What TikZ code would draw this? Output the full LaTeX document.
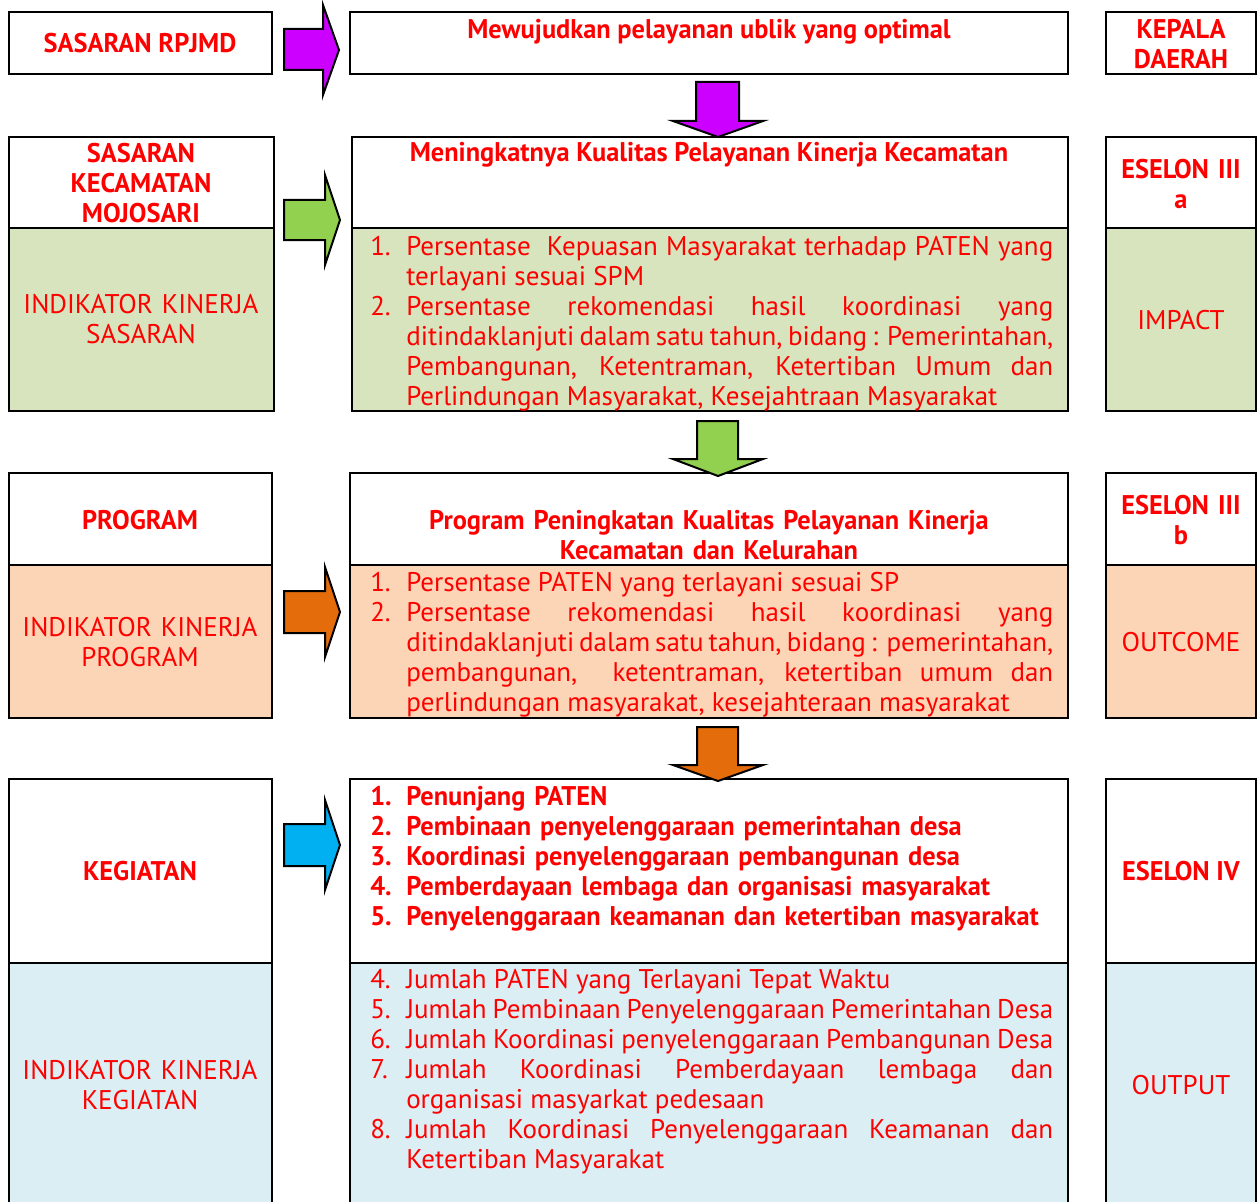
\documentclass[tikz,border=0pt]{standalone}
\usepackage{fontspec}
\setmainfont{PT Sans}[BoldFeatures={FakeStretch=0.977}]
\definecolor{txtred}{HTML}{FF0000}
\definecolor{gfill}{HTML}{D7E4BD}
\definecolor{ofill}{HTML}{FBD5B5}
\definecolor{bfill}{HTML}{DBEEF4}
\definecolor{apurple}{HTML}{CC00FF}
\definecolor{agreen}{HTML}{92D050}
\definecolor{aorange}{HTML}{E46C0A}
\definecolor{ablue}{HTML}{00B0F0}
\newcommand\fsz{\fontsize{20.25pt}{22.5pt}\selectfont}
\newcommand\litem[1]{\par\noindent\hangindent=27pt\hangafter=1\makebox[27pt][l]{\strut#1}\ignorespaces}
\tikzset{
  frame/.style={draw=black, line width=2pt},
  blockarrow/.style={draw=black, line width=1.5pt, line join=miter},
  lbl/.style={inner sep=0pt, text=txtred, font=\fsz, anchor=base},
  mlbl/.style={inner sep=0pt, text=txtred, font=\fsz, anchor=north, align=center},
  lst/.style={inner sep=0pt, text=txtred, font=\fsz, anchor=north west, text width=512.25pt, align=justify},
}
\begin{document}
\begin{tikzpicture}[x=0.75pt,y=-0.75pt]
\useasboundingbox (0,0) rectangle (1260,1202);
\clip (0,0) rectangle (1260,1202);
\fill[white] (0,0) rectangle (1260,1202);

% ---------- row 1
\draw[frame] (9,12) rectangle (272,74);
\draw[frame] (350,12) rectangle (1068,74);
\draw[frame] (1106,12) rectangle (1256,74);
\node[lbl, font=\fsz\bfseries] (r1l) at (140,53) {SASARAN RPJMD};
\node[lbl, font=\fsz\bfseries] (r1c) at (709,39) {Mewujudkan pelayanan ublik yang optimal};
\node[mlbl, font=\fsz\bfseries, text width=110pt] (r1r) at (1181,17) {\strut KEPALA\\DAERAH};

% ---------- row 2
\fill[gfill] (9,228) rectangle (274,411);
\fill[gfill] (352,228) rectangle (1068,411);
\fill[gfill] (1106,228) rectangle (1256,411);
\draw[frame] (9,137) rectangle (274,411);
\draw[frame] (9,228) -- (274,228);
\draw[frame] (352,137) rectangle (1068,411);
\draw[frame] (352,228) -- (1068,228);
\draw[frame] (1106,137) rectangle (1256,411);
\draw[frame] (1106,228) -- (1256,228);
\node[mlbl, font=\fsz\bfseries, text width=190pt] (r2lt) at (141,141) {\strut SASARAN\\KECAMATAN\\MOJOSARI};
\node[mlbl, text width=190pt] (r2lb) at (141,292) {\strut INDIKATOR KINERJA\\SASARAN};
\node[lbl, font=\fsz\bfseries] (r2ct) at (709,162) {Meningkatnya Kualitas Pelayanan Kinerja Kecamatan};
\node[lst] (r2cb) at (370,225) {%
\litem{1.}Persentase\ \ Kepuasan Masyarakat terhadap PATEN yang\linebreak terlayani sesuai SPM
\litem{2.}Persentase rekomendasi hasil koordinasi yang\linebreak ditindaklanjuti dalam satu tahun, bidang : Pemerintahan,\linebreak Pembangunan, Ketentraman, Ketertiban Umum dan\linebreak Perlindungan Masyarakat, Kesejahtraan Masyarakat\par};
\node[mlbl, font=\fsz\bfseries, text width=110pt] (r2rt) at (1181,157) {\strut ESELON III\\a};
\node[lbl] (r2rb) at (1181,329) {IMPACT};

% ---------- row 3
\fill[ofill] (9,565) rectangle (272,718);
\fill[ofill] (350,565) rectangle (1068,718);
\fill[ofill] (1106,565) rectangle (1256,718);
\draw[frame] (9,473) rectangle (272,718);
\draw[frame] (9,565) -- (272,565);
\draw[frame] (350,473) rectangle (1068,718);
\draw[frame] (350,565) -- (1068,565);
\draw[frame] (1106,473) rectangle (1256,718);
\draw[frame] (1106,565) -- (1256,565);
\node[lbl, font=\fsz\bfseries] (r3lt) at (140,529) {PROGRAM};
\node[mlbl, text width=190pt] (r3lb) at (140,615) {\strut INDIKATOR KINERJA\\PROGRAM};
\node[mlbl, font=\fsz\bfseries, text width=520pt] (r3ct) at (709,508) {\strut Program Peningkatan Kualitas Pelayanan Kinerja\\Kecamatan dan Kelurahan};
\node[lst] (r3cb) at (370,561) {%
\litem{1.}Persentase PATEN yang terlayani sesuai SP
\litem{2.}Persentase rekomendasi hasil koordinasi yang\linebreak ditindaklanjuti dalam satu tahun, bidang :\ \ pemerintahan,\linebreak pembangunan,\ \ ketentraman, ketertiban umum dan\linebreak perlindungan masyarakat, kesejahteraan masyarakat\par};
\node[mlbl, font=\fsz\bfseries, text width=110pt] (r3rt) at (1181,493) {\strut ESELON III\\b};
\node[lbl] (r3rb) at (1181,651) {OUTCOME};

% ---------- row 4
\fill[bfill] (9,963) rectangle (272,1215);
\fill[bfill] (350,963) rectangle (1068,1215);
\fill[bfill] (1106,963) rectangle (1256,1215);
\draw[frame] (9,779) rectangle (272,1215);
\draw[frame] (9,963) -- (272,963);
\draw[frame] (350,779) rectangle (1068,1215);
\draw[frame] (350,963) -- (1068,963);
\draw[frame] (1106,779) rectangle (1256,1215);
\draw[frame] (1106,963) -- (1256,963);
\node[lbl, font=\fsz\bfseries] (r4lt) at (140,880) {KEGIATAN};
\node[mlbl, text width=190pt] (r4lb) at (140,1058) {\strut INDIKATOR KINERJA\\KEGIATAN};
\node[lst, font=\fsz\bfseries, align=left] (r4ct) at (370,775) {%
\litem{1.}Penunjang PATEN
\litem{2.}Pembinaan penyelenggaraan pemerintahan desa
\litem{3.}Koordinasi penyelenggaraan pembangunan desa
\litem{4.}Pemberdayaan lembaga dan organisasi masyarakat
\litem{5.}Penyelenggaraan keamanan dan ketertiban masyarakat\par};
\node[lst] (r4cb) at (370,958) {%
\litem{4.}Jumlah PATEN yang Terlayani Tepat Waktu
\litem{5.}Jumlah Pembinaan Penyelenggaraan Pemerintahan Desa
\litem{6.}Jumlah Koordinasi penyelenggaraan Pembangunan Desa
\litem{7.}Jumlah Koordinasi Pemberdayaan lembaga dan\linebreak organisasi masyarkat pedesaan
\litem{8.}Jumlah Koordinasi Penyelenggaraan Keamanan dan\linebreak Ketertiban Masyarakat\par};
\node[lbl, font=\fsz\bfseries] (r4rt) at (1181,880) {ESELON IV};
\node[lbl] (r4rb) at (1181,1094) {OUTPUT};

% ---------- right block arrows
\draw[blockarrow, fill=apurple] (284,29) -- (323,29) -- (323,5) -- (339,50) -- (323,95) -- (323,70) -- (284,70) -- cycle;
\draw[blockarrow, fill=agreen] (284,200) -- (325,200) -- (325,175) -- (340,220) -- (325,265) -- (325,240) -- (284,240) -- cycle;
\draw[blockarrow, fill=aorange] (284,591) -- (325,591) -- (325,567) -- (340,612) -- (325,657) -- (325,633) -- (284,633) -- cycle;
\draw[blockarrow, fill=ablue] (284,824) -- (325,824) -- (325,800) -- (340,845) -- (325,890) -- (325,866) -- (284,866) -- cycle;

% ---------- down block arrows
\draw[blockarrow, fill=apurple] (696,82) -- (739,82) -- (739,121) -- (763,121) -- (718,137) -- (673,121) -- (696,121) -- cycle;
\draw[blockarrow, fill=agreen] (697,421) -- (738,421) -- (738,459) -- (763,459) -- (718,476) -- (673,459) -- (697,459) -- cycle;
\draw[blockarrow, fill=aorange] (697,727) -- (738,727) -- (738,765) -- (763,765) -- (718,781) -- (673,765) -- (697,765) -- cycle;
\end{tikzpicture}
\end{document}
